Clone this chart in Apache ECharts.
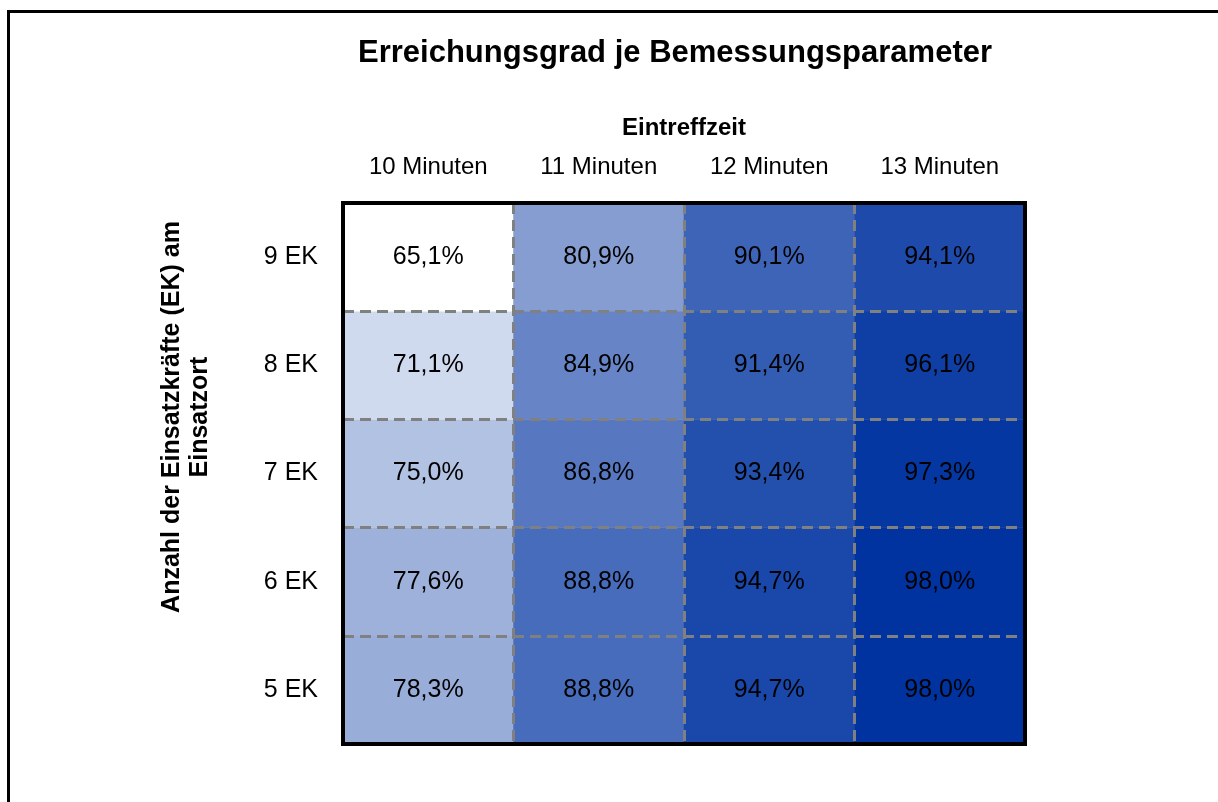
<!DOCTYPE html>
<html><head><meta charset="utf-8">
<script src="https://cdn.jsdelivr.net/npm/echarts@6/dist/echarts.min.js"></script>
<style>html,body{margin:0;padding:0;background:#fff}#c{width:1218px;height:802px}</style>
</head><body><div id="c"></div>
<script>
const xCategories = ['10 Minuten', '11 Minuten', '12 Minuten', '13 Minuten'];
const yCategories = ['5 EK', '6 EK', '7 EK', '8 EK', '9 EK'];
const row5EK = [78.3, 88.8, 94.7, 98.0];
const row6EK = [77.6, 88.8, 94.7, 98.0];
const row7EK = [75.0, 86.8, 93.4, 97.3];
const row8EK = [71.1, 84.9, 91.4, 96.1];
const row9EK = [65.1, 80.9, 90.1, 94.1];
const rows = [row5EK, row6EK, row7EK, row8EK, row9EK];
const yAxisTitle = 'Anzahl der Einsatzkräfte (EK) am\nEinsatzort';

const data = [];
rows.forEach((r, yi) => r.forEach((v, xi) => data.push([xi, yi, v])));

const font = 'Liberation Sans, Arial, sans-serif';
const chart = echarts.init(document.getElementById('c'));
chart.setOption({
  animation: false,
  title: {
    text: 'Erreichungsgrad je Bemessungsparameter',
    left: 670, top: 33, textAlign: 'center',
    textStyle: { fontFamily: font, fontSize: 31, fontWeight: 'bold', color: '#000' }
  },
  graphic: [{
    type: 'rect', z: 100,
    shape: { x: 8.5, y: 11.5, width: 1400, height: 1000 },
    style: { fill: 'none', stroke: '#000', lineWidth: 3 }
  }, {
    type: 'text', x: 186, y: 417, rotation: Math.PI / 2,
    style: {
      text: yAxisTitle, align: 'center', verticalAlign: 'middle',
      font: 'bold 25px Liberation Sans, Arial, sans-serif', lineHeight: 28, fill: '#000'
    }
  }],
  grid: { left: 343, right: 193, top: 203, bottom: 58, show: true, borderColor: '#000', borderWidth: 4, backgroundColor: 'transparent', z: 10 },
  xAxis: {
    type: 'category', data: xCategories, position: 'top', z: 5,
    name: 'Eintreffzeit', nameLocation: 'middle', nameGap: 63,
    nameTextStyle: { fontFamily: font, fontSize: 24, fontWeight: 'bold', color: '#000' },
    axisLine: { show: false }, axisTick: { show: false },
    axisLabel: { fontFamily: font, fontSize: 24, color: '#000', margin: 24 },
    splitLine: { show: true, interval: 0, lineStyle: { color: '#808080', width: 3, type: [11, 6] } }
  },
  yAxis: {
    type: 'category', data: yCategories, z: 5,
    axisLine: { show: false }, axisTick: { show: false },
    axisLabel: { fontFamily: font, fontSize: 25, color: '#000', margin: 25 },
    splitLine: { show: true, interval: 0, lineStyle: { color: '#808080', width: 3, type: [11, 6] } }
  },
  visualMap: {
    show: false, type: 'continuous', min: 65.1, max: 98.0, dimension: 2,
    inRange: { color: ['#ffffff', '#0033a0'] }
  },
  series: [{
    type: 'heatmap', data: data, z: 2,
    label: {
      show: true, fontFamily: font, fontSize: 25, color: '#000',
      formatter: p => p.value[2].toFixed(1).replace('.', ',') + '%'
    },
    itemStyle: { borderWidth: 0 },
    emphasis: { disabled: true }
  }]
});
</script></body></html>
